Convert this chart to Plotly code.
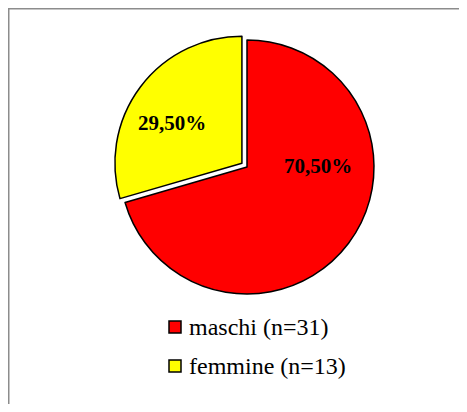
import plotly.graph_objects as go

# data
labels = ["maschi (n=31)", "femmine (n=13)"]
values = [70.5, 29.5]
slice_text = ["70,50%", "29,50%"]
colors = ["#ff0000", "#ffff00"]
pulls = [0, 0.05]

# page has an 8px body margin, so the figure is drawn 16px smaller
W, H = 451, 396


def px(x):
    return x / W


def py(y):
    # pixel from top -> paper fraction from bottom
    return (H - y) / H


# pie box: centre ~ (239, 159), radius ~127 px, extra room for the pull
cx, cy, r = 239, 159, 127
half = r * (1 + max(pulls))

fig = go.Figure()

fig.add_trace(go.Pie(
    labels=labels,
    values=values,
    textinfo="none",
    marker=dict(colors=colors, line=dict(color="black", width=1.5)),
    pull=pulls,
    sort=False,
    direction="clockwise",
    rotation=0,
    showlegend=False,
    domain=dict(x=[px(cx - half), px(cx + half)], y=[py(cy + half), py(cy - half)]),
))

# percentage labels, placed where the original chart put them
label_pos = [(310, 158), (164, 115)]
for txt, (lx, ly) in zip(slice_text, label_pos):
    fig.add_annotation(
        x=px(lx), y=py(ly), xref="paper", yref="paper",
        xanchor="center", yanchor="middle",
        text="<b>%s</b>" % txt, showarrow=False,
        font=dict(family="Liberation Serif", size=21, color="black"),
    )

# legend drawn by hand so the spacing matches
leg_x, leg_y0, leg_step, box = 161, 319, 39, 12
for i, (lab, col) in enumerate(zip(labels, colors)):
    yc = leg_y0 + i * leg_step
    fig.add_shape(
        type="rect", xref="paper", yref="paper",
        x0=px(leg_x), x1=px(leg_x + box), y0=py(yc + box / 2), y1=py(yc - box / 2),
        fillcolor=col, line=dict(color="black", width=1.5),
    )
    fig.add_annotation(
        x=px(leg_x + box + 6), y=py(yc), xref="paper", yref="paper",
        xanchor="left", yanchor="middle", text=lab, showarrow=False,
        font=dict(family="Liberation Serif", size=24, color="black"),
    )

# outer frame (only left and top edges visible in the reference)
fig.add_shape(
    type="rect", xref="paper", yref="paper",
    x0=px(0.5), x1=1.2, y0=-0.2, y1=py(0.5),
    line=dict(color="#8c8c8c", width=2),
)

fig.update_layout(
    width=W,
    height=H,
    margin=dict(l=0, r=0, t=0, b=0),
    paper_bgcolor="white",
    plot_bgcolor="white",
    font=dict(family="Liberation Serif", color="black"),
    showlegend=False,
)

fig.write_html("out.html")
